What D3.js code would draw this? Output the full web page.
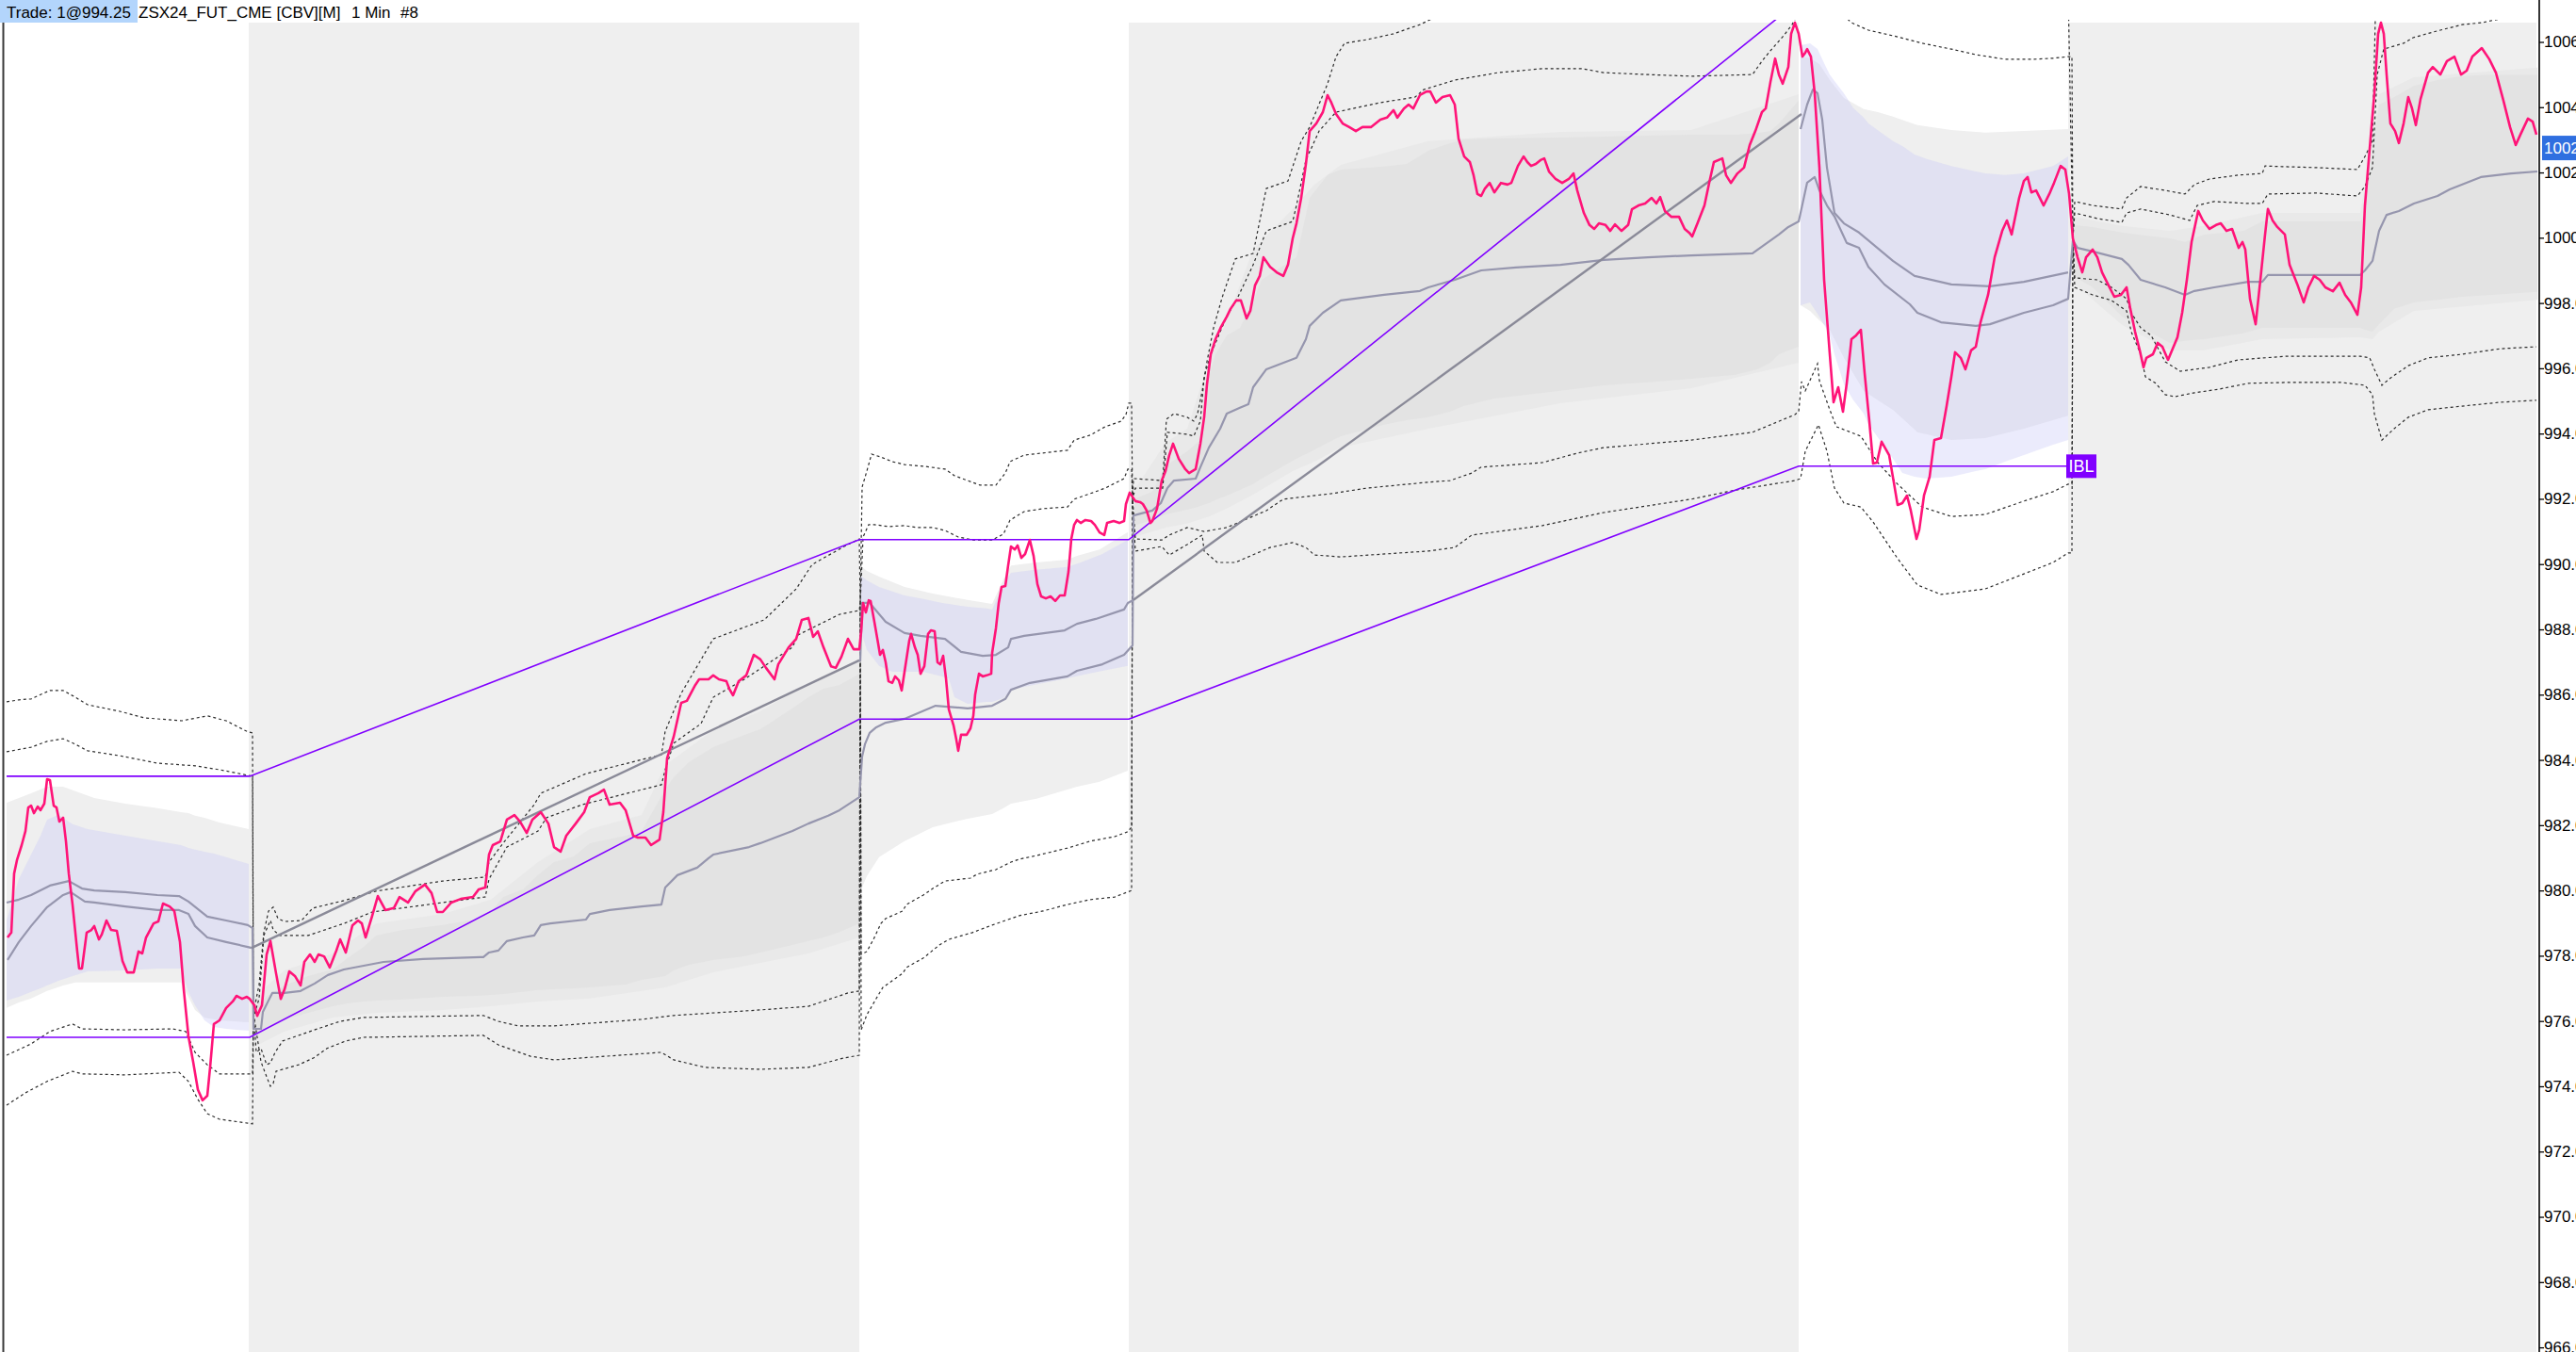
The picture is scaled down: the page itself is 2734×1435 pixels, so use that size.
<!DOCTYPE html>
<html><head><meta charset="utf-8">
<script src="https://cdn.jsdelivr.net/npm/d3@7"></script>
<style>html,body{margin:0;padding:0;background:#fff;overflow:hidden}text{font-family:"Liberation Sans",Arial,sans-serif}</style>
</head><body><svg id="c" width="2734" height="1435"></svg>
<script>
// ---------- DATA (x = 1-minute bar index, y = price) ----------
const titleHighlight = "Trade: 1@994.25";
const titleParts = ["ZSX24_FUT_CME [CBV][M]", "1 Min", "#8"];
const yTicks = [966,968,970,972,974,976,978,980,982,984,986,988,990,992,994,996,998,1000,1002,1004,1006];
const lastPrice = 1002.75;
const ibLabel = "IBL";
// overnight (shaded) sessions [startBar, endBar]
const nightSessions = [[132,456],[599,954.5],[1097.5,1346]];

const price = [[4,978.56],[6,978.71],[7.5,980.52],[9,980.93],[11.5,981.39],[13.5,981.82],[15,982.54],[16.5,982.6],[18,982.37],[20,982.57],[21.5,982.46],[23.5,982.66],[25,983.41],[26.5,983.38],[28.5,982.6],[30,982.54],[31.5,982.11],[33.5,982.23],[35,981.51],[36.5,980.52],[38.5,979.57],[41,978.13],[42,977.61],[43.5,977.61],[46,978.71],[48.5,978.79],[50,978.91],[52.5,978.5],[54,978.65],[56.5,979.08],[59,978.79],[62,978.76],[65,977.84],[67.5,977.49],[71,977.49],[73.5,978.13],[75.5,978.07],[77.5,978.56],[81.5,978.99],[84,979.05],[86.5,979.6],[90,979.51],[92.5,979.37],[95.5,978.42],[97.5,976.97],[100,975.53],[102.5,974.75],[105,973.9],[107.5,973.57],[110,973.71],[111.5,974.58],[113.5,975.91],[116.5,976.02],[120,976.4],[123.5,976.6],[125.5,976.77],[128.5,976.68],[131,976.74],[132.5,976.68],
[135,976.48],[136.5,976.16],[139,976.48],[141.5,978.04],[143.5,978.45],[146.5,977.46],[149,976.68],[151,976.97],[153.5,977.52],[156.5,977.38],[159.5,977.09],[161.5,977.81],[164.5,978.04],[167,977.81],[169,978.04],[172,977.98],[175,977.64],[178.5,978.16],[180.5,978.5],[183.5,978.1],[187,978.93],[190,979.08],[192,978.99],[194,978.56],[197.5,979.22],[200.5,979.83],[204.5,979.4],[209,979.46],[212,979.8],[216.5,979.63],[220.5,979.98],[225.5,980.18],[229,979.92],[232,979.34],[235,979.34],[239.5,979.63],[244.5,979.74],[251,979.8],[254,980.03],[257.5,980.09],[259.5,981.1],[261.5,981.39],[265.5,981.5],[269,982.17],[273,982.31],[276,982.11],[279.5,981.76],[282.5,982.17],[287,982.4],[291,982.05],[294,981.33],[297.5,981.19],[300.5,981.68],[305.5,982.05],[310,982.4],[313,982.86],[317.5,982.98],[320.5,983.09],[323.5,982.63],[329,982.69],[332,982.46],[336,981.68],[338.5,981.62],[342.5,981.62],[345.5,981.39],[350,981.56],[352,982.4],[354,984.05],[357.5,984.71],[361.5,985.75],[364.5,985.81],[369,986.3],[371,986.47],[376,986.47],[378.5,986.59],[381.5,986.47],[385.5,986.41],[387,986.18],[389,985.98],[392,986.41],[396,986.59],[400,987.22],[403.5,987.08],[406.5,986.82],[411,986.47],[413,986.93],[418.5,987.45],[422.5,987.71],[425.5,988.29],[429,988.35],[431.5,987.77],[434,987.94],[437,987.45],[441,986.87],[443.5,986.82],[446.5,987.16],[450,987.71],[453,987.39],[456,987.39],
[457,987.94],[458,988.81],[459.5,988.52],[461,988.89],[462,988.87],[464,988.23],[466,987.57],[467,987.22],[468.5,987.37],[470,986.99],[471.5,986.41],[473.5,986.36],[475,986.56],[477,986.44],[478.5,986.13],[480,986.7],[482.5,987.65],[483.5,987.86],[485.5,987.45],[487,987.22],[488.5,986.64],[490.5,986.87],[492.5,987.86],[494,987.97],[496,987.94],[497.5,986.99],[499,986.93],[500.5,987.19],[502,986.5],[503.5,985.55],[506,985.06],[507.5,984.62],[508.5,984.28],[510,984.77],[513,984.77],[515,984.97],[516.5,985.35],[517.5,986.01],[519.5,986.64],[521.5,986.56],[523.5,986.59],[526,986.64],[526.5,987.28],[528.5,988.03],[530,988.81],[531.5,989.3],[533.5,989.33],[535,989.96],[536.5,990.54],[538.5,990.45],[540,990.57],[542,990.19],[544,990.31],[546.5,990.74],[548.5,990.25],[550.5,989.39],[552.5,989.01],[555,988.95],[557.5,989.01],[560,988.87],[562.5,989.04],[565,989.04],[567,989.76],[568.5,990.77],[570,991.2],[571.5,991.35],[573.5,991.26],[576,991.35],[579,991.32],[581,991.2],[583.5,990.97],[586,990.89],[587.5,991.26],[591,991.32],[594,991.26],[596.5,991.32],[597.5,991.84],[599.5,992.19],
[602.5,991.93],[605,991.9],[606.5,991.84],[608.5,991.64],[610.5,991.26],[611.5,991.32],[614,991.7],[616.5,992.56],[618.5,992.85],[620.5,993.34],[622.5,993.69],[625.5,993.23],[629,992.91],[631,992.79],[634.5,992.91],[637,993.69],[639,994.5],[640.5,995.51],[642.5,996.43],[645,996.89],[648,997.27],[651,997.58],[653,997.82],[656,998.08],[658.5,998.08],[661.5,997.53],[663.5,997.76],[666,998.54],[668.5,998.83],[670.5,999.4],[674,999.11],[677.5,998.94],[681,998.83],[683.5,999.17],[686,999.98],[688,1000.44],[690.5,1001.22],[693,1002.26],[695,1003.27],[698.5,1003.5],[702,1003.85],[704.5,1004.37],[706.5,1004.14],[709,1003.79],[712.5,1003.5],[716,1003.39],[719.5,1003.27],[723,1003.39],[727.5,1003.39],[732.5,1003.62],[736,1003.68],[739.5,1003.91],[741.5,1003.68],[745,1003.96],[747.5,1004.08],[750,1003.96],[753.5,1004.37],[757,1004.48],[759,1004.48],[762,1004.14],[765.5,1004.31],[769.5,1004.37],[772,1004.08],[774,1003.04],[777,1002.49],[780,1002.32],[782,1001.91],[784,1001.34],[786,1001.28],[788,1001.51],[790.5,1001.68],[793,1001.39],[796.5,1001.68],[800,1001.63],[802,1001.68],[805.5,1002.2],[808.5,1002.49],[810.5,1002.32],[812.5,1002.2],[815,1002.26],[817.5,1002.38],[819.5,1002.43],[822,1002.03],[825.5,1001.8],[829,1001.68],[832.5,1001.8],[835,1001.97],[837,1001.45],[840.5,1000.76],[843.5,1000.39],[846,1000.27],[848.5,1000.44],[852,1000.39],[854.5,1000.21],[857,1000.41],[860.5,1000.21],[864,1000.39],[866,1000.87],[869.5,1000.99],[873,1001.05],[876.5,1001.22],[879,1001.05],[881,1001.25],[883.5,1000.82],[887,1000.64],[891,1000.64],[894,1000.27],[896.5,1000.15],[898,1000.04],[901,1000.47],[904.5,1000.99],[907,1001.68],[909.5,1002.32],[914,1002.43],[916,1001.91],[918.5,1001.68],[922,1001.97],[925.5,1002.15],[928.5,1002.84],[931.5,1003.27],[935,1003.85],[937,1003.96],[939.5,1004.77],[942,1005.49],[944,1005],[946,1004.72],[949,1005.23],[950.5,1006.25],[952.5,1006.59],[954.5,1006.25],
[956.5,1005.55],[958,1005.67],[959,1005.78],[961,1005.55],[963,1004.43],[965.5,1002.15],[968,998.71],[971,996.43],[973,994.96],[975.5,995.42],[978,994.67],[980,995.54],[982.5,996.89],[985,997.01],[987.5,997.18],[989.5,995.85],[992,994.38],[994,993.08],[996,993.11],[998.5,993.75],[1002.5,993.34],[1005,992.5],[1007,991.81],[1009.5,991.87],[1012,992.1],[1014,991.64],[1017,990.77],[1018.5,991.06],[1021,992.1],[1024,992.68],[1026.5,993.8],[1030,993.86],[1033,994.84],[1035.5,995.73],[1037.5,996.49],[1040.5,996.32],[1043,995.97],[1046,996.55],[1048.5,996.66],[1051,997.41],[1055,998.25],[1058.5,999.4],[1062.5,1000.21],[1065,1000.53],[1067.5,1000.1],[1071.5,1001.22],[1074,1001.74],[1076,1001.86],[1078,1001.39],[1080.5,1001.45],[1084.5,1000.99],[1087.5,1001.34],[1090,1001.68],[1093.5,1002.2],[1096,1002.09],[1098,1001.34],
[1100,999.98],[1102.5,999.4],[1105,998.94],[1107,999.4],[1110.5,999.64],[1113,999.4],[1115.5,998.94],[1118.5,998.59],[1122,998.19],[1125.5,998.25],[1128.5,998.48],[1130.5,997.82],[1133,997.12],[1135.5,996.55],[1137.5,996.03],[1139,996.32],[1142.5,996.43],[1145,996.78],[1147.5,996.66],[1150.5,996.26],[1153,996.6],[1155.5,996.95],[1158,997.7],[1160.5,998.71],[1163,999.87],[1166.5,1000.82],[1169,1000.53],[1172.5,1000.27],[1176,1000.39],[1178.5,1000.44],[1181.5,1000.21],[1184.5,1000.27],[1188,999.69],[1190,999.87],[1191.5,999.64],[1194,998.13],[1197,997.35],[1199.5,998.71],[1202,1000.1],[1203.5,1000.88],[1206,1000.53],[1208.5,1000.33],[1212.5,1000.1],[1215,999.17],[1219,998.59],[1222.5,998.02],[1225,998.48],[1228,998.83],[1231,998.71],[1234,998.48],[1238,998.36],[1241.5,998.62],[1244.5,998.25],[1247.5,998.02],[1251,997.64],[1253,998.48],[1255,1000.99],[1257.5,1002.72],[1260,1004.43],[1262,1006.25],[1263.5,1006.59],[1265,1006.25],[1266.5,1005],[1268.5,1003.5],[1271,1003.27],[1273,1002.9],[1275.5,1003.5],[1278,1004.31],[1280,1003.96],[1282,1003.45],[1284.5,1004.25],[1288.5,1005.06],[1291,1005.23],[1295,1005],[1298.5,1005.41],[1302.5,1005.55],[1306,1005],[1309,1005.12],[1312,1005.55],[1317,1005.81],[1321,1005.47],[1324.5,1005.06],[1328.5,1004.2],[1332,1003.39],[1335,1002.84],[1337.5,1003.16],[1341.5,1003.65],[1344,1003.56],[1346,1003.16]];

// deviation bands (dotted), outer/inner upper and lower
const devU2 = [[3.5,985.78],[10,985.84],[16.5,985.87],[26.5,986.13],[33.5,986.13],[40,985.92],[46.5,985.69],[63.5,985.49],[76.5,985.29],[96.5,985.2],[110,985.35],[120,985.2],[131.5,984.86],[134,984.83],[134.5,976.25],[137.5,977.12],[140,978.71],[142.5,979.37],[145,979.49],[147.5,979.14],[151,979.05],[160,979.08],[166,979.46],[182.5,979.69],[199.5,979.98],[235,980.29],[257.5,980.41],[259.5,980.87],[267,981.45],[283.5,982.63],[287,982.98],[311,983.58],[351,984.16],[353,984.88],[361.5,986.04],[378.5,987.71],[405.5,988.29],[422.5,989.24],[431,989.99],[448,990.54],[456,990.77],[456.5,988.81],[457.5,992.36],[460,992.85],[462.5,993.37],[467.5,993.28],[473.5,993.14],[480,993.05],[490,993],[501.5,992.91],[506.5,992.71],[520,992.42],[528.5,992.42],[533.5,992.79],[536,993.14],[543.5,993.34],[566.5,993.49],[570,993.8],[578.5,993.95],[586.5,994.21],[595,994.38],[597.5,994.58],[599,994.93],[600.5,994.93],[601,991.84],[601.5,992.62],[617,992.56],[619,994.44],[623,994.61],[630,994.5],[633.5,994.38],[635.5,994.61],[638,995.31],[640.5,996.2],[644,997.24],[648.5,998.16],[655.5,999.35],[665,999.52],[672,1001.51],[683.5,1001.74],[690.5,1002.96],[695,1003.39],[704.5,1004.72],[709,1005.55],[713.5,1005.96],[725.5,1006.07],[739.5,1006.25],[753.5,1006.53],[765,1006.85],[780,1007.29],[955.5,1007.57],[1097.5,1007.57],[1100,999.98],[1101,1001.11],[1110.5,1000.99],[1126,1000.88],[1128.5,1001.22],[1136,1001.57],[1149,1001.45],[1159.5,1001.34],[1164.5,1001.63],[1172.5,1001.8],[1188,1001.92],[1200.5,1001.97],[1202,1002.2],[1211,1002.18],[1229,1002.15],[1251,1002.09],[1255,1002.49],[1259,1002.96],[1260.5,1006.71],[1261.5,1007.29],[1346.5,1007.57]];
const devU1 = [[3.5,984.25],[16.5,984.39],[25,984.57],[33.5,984.65],[40,984.48],[46.5,984.28],[63.5,984.13],[83.5,983.9],[103.5,983.82],[116.5,983.7],[131.5,983.53],[134,983.5],[134.5,976.11],[137.5,976.69],[140,978.62],[143.5,979.08],[145,978.79],[148.5,978.62],[163.5,978.62],[182.5,978.99],[197.5,979.34],[235,979.63],[257.5,979.8],[259.5,980.35],[269,981.33],[285.5,981.82],[290,982.23],[309,982.63],[351,983.24],[353,983.7],[357.5,984.51],[372,985.11],[378.5,985.92],[395,986.47],[420.5,987.45],[423.5,987.83],[445.5,988.46],[456,988.58],[456.5,988.81],[458,990.83],[461,991.21],[464,991.21],[471.5,991.15],[480,991.18],[486.5,991.12],[495,991.12],[501.5,991.03],[508.5,990.83],[516.5,990.74],[526.5,990.74],[532.5,990.92],[536,991.35],[543.5,991.61],[553.5,991.7],[566.5,991.75],[570,991.99],[580,992.19],[586.5,992.33],[596.5,992.62],[598.5,992.91],[600.5,992.91],[601,991.99],[602.5,992.33],[617,992.33],[619.5,994.04],[630,993.98],[633.5,993.92],[637,994.38],[639,995.74],[642.5,996.43],[651,997.59],[656.5,998.13],[665,999.17],[672,1000.21],[686,1000.5],[688,1000.99],[693,1002.38],[700,1003.27],[709,1003.85],[732.5,1004.14],[751,1004.31],[755.5,1004.54],[772,1004.83],[795,1005.06],[818.5,1005.18],[839.5,1005.18],[851,1005.06],[874.5,1005],[897.5,1004.95],[930,1005],[935,1005.41],[939.5,1005.73],[946.5,1006.19],[951,1006.53],[954,1006.85],[955.5,1007.29],[975,1007],[982.5,1006.59],[991.5,1006.36],[1004.5,1006.19],[1020,1005.96],[1035.5,1005.78],[1048.5,1005.61],[1064,1005.47],[1079.5,1005.47],[1089.5,1005.5],[1097.5,1005.55],[1099.5,1005.55],[1100,999.98],[1101,1000.76],[1113,1000.59],[1126,1000.47],[1128.5,1000.76],[1136,1000.88],[1151.5,1000.7],[1162,1000.53],[1166,1000.99],[1175,1001.11],[1193,1001.05],[1200.5,1001.05],[1203.5,1001.34],[1229,1001.37],[1251,1001.28],[1255,1001.57],[1259,1002.15],[1261.5,1005],[1265,1005.78],[1275.5,1005.96],[1280.5,1006.13],[1291,1006.3],[1306.5,1006.53],[1317,1006.59],[1327,1006.71],[1346.5,1006.94]];
const devL1 = [[3.5,974.95],[16.5,975.3],[26.5,975.68],[38.5,975.91],[43.5,975.76],[66.5,975.73],[91.5,975.76],[98.5,975.68],[103.5,975.04],[110,974.66],[116.5,974.38],[131.5,974.38],[134,974.38],[134.5,976.25],[136,975.04],[138.5,975.16],[141.5,974.66],[143.5,974.72],[146,975.04],[150,975.39],[170,975.79],[180.5,975.99],[193,976.11],[256.5,976.17],[264.5,975.99],[275,975.85],[294,975.85],[340.5,976.05],[357.5,976.17],[403.5,976.34],[429,976.45],[450,976.86],[456,976.92],[456.5,988.81],[457,978.04],[460,978.13],[463.5,978.5],[467.5,978.99],[470,979.14],[479,979.37],[481,979.57],[490,979.86],[495,980.06],[501.5,980.29],[515,980.38],[518.5,980.5],[528.5,980.64],[536.5,980.87],[541,980.96],[550,981.07],[566.5,981.3],[578.5,981.51],[591.5,981.65],[598.5,981.8],[600.5,981.94],[601,991.99],[602.5,990.77],[616.5,990.74],[620.5,990.89],[630,991.12],[639,991],[651,991.12],[672,991.64],[681,991.99],[706.5,992.16],[725.5,992.33],[758,992.51],[769.5,992.56],[781,992.79],[786,992.97],[818.5,993.11],[837,993.4],[851,993.57],[897.5,993.8],[930,994.04],[952.5,994.58],[954.5,994.67],[956,995.59],[958,995.31],[964.5,996.14],[965.5,995.62],[971,994.73],[974.5,994.21],[987.5,993.92],[996.5,993.11],[1007,992.45],[1020,991.75],[1035.5,991.46],[1053.5,991.52],[1074,991.93],[1089.5,992.22],[1097.5,992.45],[1099.5,992.45],[1100,999.98],[1101,998.77],[1113,998.71],[1120.5,998.48],[1128.5,998.13],[1131,997.7],[1136,997.24],[1141.5,997.01],[1149,996.2],[1157,995.91],[1172.5,996.03],[1188,996.26],[1213.5,996.37],[1252.5,996.37],[1257.5,996.32],[1260,995.97],[1264,995.48],[1268,995.68],[1278,996.08],[1288.5,996.32],[1306.5,996.43],[1327,996.6],[1346,996.66]];
const devL2 = [[3.5,973.42],[13.5,973.8],[25,974.15],[38.5,974.46],[43.5,974.38],[66.5,974.35],[95,974.43],[100,974.15],[105,973.6],[110,973.16],[116.5,972.99],[131.5,972.87],[134,972.85],[134.5,976.25],[138.5,974.75],[141.5,974.29],[143.5,974],[145,974.09],[146.5,974.46],[158.5,974.66],[166.5,974.87],[173.5,975.16],[183.5,975.39],[193,975.5],[256.5,975.56],[264.5,975.27],[281.5,974.92],[294,974.81],[351,975.04],[357.5,974.81],[374,974.58],[403.5,974.52],[429,974.58],[448,974.87],[456,974.95],[456.5,988.81],[457,975.73],[460,976.19],[465,976.69],[468.5,977.03],[479,977.46],[481,977.64],[490,977.93],[498.5,978.33],[503.5,978.5],[516,978.71],[526.5,978.94],[541,979.23],[553.5,979.37],[566.5,979.57],[578.5,979.72],[591.5,979.8],[600.5,980],[601,991.99],[602.5,990.4],[616.5,990.54],[620.5,990.28],[630,990.6],[638,990.89],[639,990.4],[646,990.05],[655.5,990.05],[674,990.51],[686,990.66],[693,990.51],[697.5,990.28],[711.5,990.22],[758,990.4],[772,990.51],[781,990.89],[818.5,991.18],[851,991.58],[897.5,991.99],[921,992.27],[952.5,992.56],[955.5,992.62],[958,993.46],[965,994.27],[969.5,993.46],[973.5,992.33],[978.5,991.87],[987.5,991.75],[994,991.29],[1007,990.17],[1017.5,989.36],[1030,989.07],[1053.5,989.24],[1074,989.7],[1089.5,990.05],[1097.5,990.34],[1099.5,990.34],[1100,999.98],[1101,998.48],[1110.5,998.25],[1120.5,998.08],[1128.5,997.76],[1131,997.12],[1136,996.43],[1138.5,995.74],[1144,995.54],[1149,995.19],[1154,995.13],[1164.5,995.25],[1177.5,995.36],[1193,995.54],[1216,995.57],[1242,995.57],[1255,995.48],[1259,995.19],[1260,994.61],[1264,993.8],[1270.5,994.15],[1278,994.5],[1288.5,994.73],[1306.5,994.84],[1327,994.96],[1346,995.02]];

// shaded value bands [bar, upper, lower]
const dayBand0Outer = [[3.5,982.69,976.4],[10,982.83,976.57],[16.5,982.98,976.69],[25,983.18,976.92],[33.5,983.18,977.09],[40,983.04,977.18],[50,982.83,977.18],[66.5,982.66,977.18],[83.5,982.52,977.18],[96,982.4,977.18],[100,982.37,976.74],[103.5,982.29,976.34],[108.5,982.23,976.11],[116.5,982.08,976.02],[132,981.88,975.96]];
const dayBand0Inner = [[3.5,979.08,976.63],[10,980.35,976.74],[16.5,981.1,976.89],[21.5,981.68,977],[25,982.17,977.09],[31,982.31,977.23],[38.5,982.03,977.38],[46.5,981.88,977.52],[66.5,981.68,977.55],[83.5,981.51,977.61],[96,981.39,977.61],[100,981.3,976.89],[103.5,981.25,976.48],[108.5,981.19,976.02],[113.5,981.13,975.82],[120,981.02,975.76],[132,980.81,975.7]];
const nightBand1Outer = [[134,976.69,975.18],[151,977.55,975.68],[176.5,978.07,976.11],[199.5,978.99,976.25],[235,979.28,976.34],[260.5,979.72,976.45],[285.5,980.87,976.6],[313,981.88,976.69],[340.5,982.31,976.92],[353,983.84,977.03],[378.5,984.91,977.49],[403.5,985.49,977.78],[429,986.36,978.07],[456,987.08,978.56]];
const nightBand1Inner = [[134,976.4,975.44],[142.5,976.8,975.79],[151,977.09,976.05],[163.5,977.38,976.25],[176.5,977.58,976.45],[184.5,977.93,976.54],[193,978.27,976.6],[199.5,978.62,976.63],[214,978.79,976.66],[235,978.94,976.74],[252,979.11,976.77],[260.5,979.34,976.8],[267,979.8,976.83],[277.5,980.03,976.89],[285.5,980.47,976.95],[294,980.87,976.97],[304.5,981.04,977],[313,981.45,977.03],[332,981.68,977.12],[340.5,981.82,977.26],[353,983.09,977.38],[357.5,983.47,977.55],[365.5,983.93,977.72],[378.5,984.39,977.87],[395,984.77,977.98],[403.5,984.94,978.1],[420.5,985.58,978.33],[429,985.92,978.45],[437,986.18,978.56],[445.5,986.3,978.73],[456,986.64,978.99]];
const dayBand2Outer = [[456.5,989.96,979.95],[460,989.79,980.44],[466.5,989.62,981.02],[480,989.3,981.51],[495,989.1,981.94],[513.5,988.9,982.2],[526.5,988.78,982.34],[532.5,989.53,982.52],[536.5,989.96,982.66],[550,990.05,982.81],[566.5,990.14,983.09],[571.5,990.25,983.18],[583.5,990.45,983.33],[598.5,990.98,983.67]];
const dayBand2Inner = [[456.5,989.65,988.03],[460,989.5,987.37],[466.5,989.3,986.88],[473.5,989.16,986.7],[480,989.04,986.7],[490,988.93,986.7],[500,988.81,986.56],[503.5,988.78,986.5],[506.5,988.75,985.92],[513.5,988.69,985.72],[523.5,988.64,985.78],[526.5,988.61,985.78],[532.5,989.39,985.89],[536.5,989.73,986.15],[548.5,989.82,986.3],[566.5,989.91,986.5],[573.5,990.05,986.59],[585,990.31,986.73],[598.5,990.74,986.88]];
const nightBand3Outer = [[602,992.27,990.83],[618.5,993.72,991.12],[630,994.15,991.24],[641.5,996.2,991.46],[651,997.47,991.7],[665,999.64,992.13],[686,1000.88,992.85],[697.5,1001.63,993.14],[711.5,1002.23,993.57],[758,1002.96,994.15],[828,1003.24,994.93],[897.5,1003.3,995.39],[954.5,1004.4,996.17]];
const nightBand3Inner = [[602,991.99,991.18],[611.5,992.22,991.35],[618.5,993,991.52],[630,993.46,991.67],[637,993.8,991.78],[641.5,995.74,991.87],[645,996.43,991.96],[651,997.01,992.1],[658,997.24,992.27],[665,998.05,992.45],[669.5,998.71,992.62],[688,999.4,993.23],[695,1001.22,993.43],[704.5,1001.92,993.72],[711.5,1002.09,993.92],[734.5,1002.18,994.27],[746.5,1002.26,994.41],[758,1002.67,994.5],[769.5,1002.9,994.67],[776.5,1003.01,994.84],[793,1003.04,995.07],[828,1003.07,995.31],[851,1003.1,995.48],[874.5,1003.13,995.57],[897.5,1003.16,995.68],[921,1003.16,995.8],[932.5,1003.21,995.97],[939.5,1003.27,996.17],[944,1003.5,996.43],[954.5,1004.2,996.66]];
const dayBand4Outer = [[955.5,1005.55,997.93],[960.5,1005.5,997.76],[965.5,1005.32,997.47],[971,1004.83,997.18],[978.5,1004.28,996.32],[989,1003.94,995.31],[996.5,1003.85,995.02],[1004.5,1003.71,994.73],[1017.5,1003.45,994.04],[1035.5,1003.3,993.8],[1053.5,1003.22,993.86],[1074,1003.27,994.15],[1097.5,1003.33,994.55]];
const dayBand4Inner = [[955.5,1005.9,997.93],[960.5,1005.96,998.02],[964.5,1005.78,997.67],[968,1005.35,997.33],[971,1005,997.01],[973.5,1004.8,996.43],[978.5,1004.43,995.51],[983.5,1003.97,995.02],[989,1003.68,994.61],[991.5,1003.5,994.29],[1004.5,1002.96,993.23],[1009.5,1002.81,992.79],[1016,1002.55,992.68],[1022.5,1002.41,992.62],[1035.5,1002.2,992.68],[1048.5,1002.03,992.85],[1053.5,1001.97,992.91],[1064,1001.92,993.14],[1074,1001.97,993.34],[1089.5,1002.2,993.66],[1097.5,1002.49,993.8]];
const nightBand5Outer = [[1100,1000.65,998.63],[1126,1000.36,997.33],[1151.5,1000.21,996.55],[1169.5,1000.36,996.55],[1200.5,1000.76,996.89],[1252.5,1000.76,996.95],[1259,1002.96,996.89],[1262.5,1004.4,997.12],[1281,1004.92,997.76],[1346.5,1005.21,998.1]];
const nightBand5Inner = [[1100,1000.39,998.83],[1110.5,1000.33,998.48],[1126,1000.16,997.59],[1138.5,1000.07,997.18],[1151.5,999.98,996.78],[1159.5,999.87,996.84],[1169.5,1000.1,996.89],[1190.5,1000.21,997.07],[1200.5,1000.5,997.24],[1252.5,1000.5,997.24],[1255,1000.76,997.18],[1259,1002.72,997.12],[1262.5,1004.08,997.35],[1270.5,1004.31,997.82],[1281,1004.66,998.02],[1293.5,1004.83,998.1],[1306.5,1004.95,998.19],[1322,1005,998.25],[1346.5,1005,998.34]];

// VWAP-style gray lines
const vwapCarry = [[3.5,979.63],[10,979.72],[16.5,979.86],[26.5,980.15],[36.5,980.29],[43.5,980.06],[50,980],[66.5,979.95],[83.5,979.86],[95,979.83],[100,979.66],[110,979.2],[120,979.08],[131.5,978.94],[134,978.85],[134.5,975.76],[138.5,975.76],[139.5,976.28],[142.5,976.63],[144.5,976.86],[151,976.86],[159.5,976.92],[167,977.15],[174,977.41],[182.5,977.58],[203.5,977.81],[224.5,977.9],[256.5,977.96],[259.5,978.1],[264.5,978.16],[269,978.45],[277.5,978.56],[283.5,978.62],[287,978.94],[292,978.99],[311,979.11],[313,979.28],[323.5,979.4],[340.5,979.51],[351,979.57],[353,980.09],[359.5,980.47],[370,980.7],[376,980.99],[378.5,981.1],[397.5,981.33],[403.5,981.45],[420.5,981.82],[429,982.05],[439.5,982.29],[445.5,982.46],[456,982.86],[457.5,984.1],[459,984.48],[461.5,984.83],[465,985],[470,985.14],[480,985.26],[496.5,985.66],[513.5,985.58],[526.5,985.66],[533.5,985.87],[536.5,986.15],[546.5,986.36],[566.5,986.56],[571.5,986.73],[585,986.93],[596.5,987.22],[601,987.51],[601.5,991.49],[611.5,991.64],[616,991.87],[619.5,992.33],[623,992.56],[634.5,992.62],[637,992.97],[641.5,993.57],[647.5,994.15],[651,994.61],[658,994.79],[662.5,994.9],[665,995.42],[672,995.97],[688,996.32],[693,996.89],[695,997.3],[702,997.7],[711.5,998.08],[734.5,998.25],[753.5,998.37],[758,998.48],[772,998.71],[786,999],[804.5,999.09],[828,999.17],[851,999.32],[874.5,999.4],[897.5,999.46],[930,999.52],[937,999.81],[944,1000.1],[949,1000.33],[954.5,1000.5],[955.5,1000.76],[959,1001.69],[963,1001.86],[965.5,1001.45],[969.5,1000.99],[973.5,1000.65],[980,999.84],[986.5,999.69],[991.5,999.11],[1000,998.57],[1013.5,997.96],[1017.5,997.7],[1030,997.41],[1048.5,997.3],[1056,997.35],[1074,997.7],[1089.5,997.93],[1097.5,998.13],[1100,999.92],[1102.5,999.69],[1110.5,999.58],[1126,999.35],[1129.5,999.17],[1136,998.71],[1149,998.48],[1159.5,998.25],[1164.5,998.37],[1175,998.48],[1193,998.65],[1200.5,998.65],[1203.5,998.86],[1252.5,998.86],[1255,999],[1259,999.29],[1262.5,1000.21],[1266.5,1000.7],[1273,1000.82],[1281,1001.05],[1293.5,1001.28],[1300,1001.48],[1316.5,1001.86],[1332.5,1001.97],[1346.5,1002.03]];
const vwapSession = [
  [[4,977.87],[10,978.42],[16.5,978.91],[25,979.49],[33.5,979.86],[37.5,979.95],[45,979.66],[50,979.63],[66.5,979.51],[83.5,979.4],[95,979.4],[100,979.28],[103.5,978.91],[110,978.56],[120,978.42],[131.5,978.27],[133.5,978.24]],
  [[456.5,987.02],[457.5,988.81],[461.5,988.81],[470,988.23],[480,987.89],[488.5,987.8],[501.5,987.71],[510,987.31],[521.5,987.19],[528.5,987.22],[535,987.45],[536.5,987.71],[543.5,987.8],[565,987.97],[571.5,988.17],[581.5,988.32],[596.5,988.61],[598.5,988.81],[601.5,988.9]],
  [[955.5,1003.33],[959,1004.08],[962,1004.54],[964.5,1004.43],[967,1003.62],[969.5,1002.15],[973.5,1000.76],[978.5,1000.44],[986.5,1000.16],[1004.5,999.29],[1016,998.83],[1035.5,998.57],[1056,998.51],[1074,998.65],[1097.5,998.94]]
];
// session open-to-open reference lines
const openLines = [
  [[133.5,978.24],[456,987.05]],
  [[601.5,988.9],[956,1003.79]]
];
// initial balance high / low
const ibHigh = [[3.5,983.5],[132.5,983.5],[456,990.75],[599,990.75],[954.5,1007.25]];
const ibLow = [[3.5,975.5],[132.5,975.5],[456,985.25],[599,985.25],[954.5,993],[1096.5,993]];

// ---------- DRAWING ----------
const W = 2734, H = 1435;
const svg = d3.select('#c');
const x = d3.scaleLinear().domain([0, 1347.5]).range([0, 2695]);
const y = d3.scaleLinear().domain([966, 1006]).range([1430.1, 44.5]);
const plotTop = 24, axisX = x(1347.5);

svg.append('rect').attr('width', W).attr('height', H).attr('fill', '#fff');
svg.append('defs').append('clipPath').attr('id', 'plot')
  .append('rect').attr('x', 5).attr('y', 21).attr('width', axisX - 5).attr('height', H - 21);

const g = svg.append('g').attr('clip-path', 'url(#plot)');

// night session shading
g.selectAll('rect.night').data(nightSessions).join('rect')
  .attr('class', 'night')
  .attr('x', d => x(d[0])).attr('y', plotTop)
  .attr('width', d => x(d[1]) - x(d[0])).attr('height', H - plotTop)
  .attr('fill', '#efefef').attr('shape-rendering', 'crispEdges');

const area = d3.area().x(d => x(d[0])).y0(d => y(d[2])).y1(d => y(d[1]));
const line = d3.line().x(d => x(d[0])).y(d => y(d[1]));

[dayBand0Outer, dayBand2Outer, dayBand4Outer].forEach(b =>
  g.append('path').attr('d', area(b)).attr('fill', '#efefef'));
[dayBand0Inner, dayBand2Inner, dayBand4Inner].forEach(b =>
  g.append('path').attr('d', area(b)).attr('fill', 'rgb(202,202,247)').attr('fill-opacity', 0.375));
[nightBand1Outer, nightBand3Outer, nightBand5Outer].forEach(b =>
  g.append('path').attr('d', area(b)).attr('fill', '#e9e9e9'));
[nightBand1Inner, nightBand3Inner, nightBand5Inner].forEach(b =>
  g.append('path').attr('d', area(b)).attr('fill', '#e3e3e3'));

// dotted deviation lines
[devU2, devU1, devL1, devL2].forEach(s =>
  g.append('path').attr('d', line(s)).attr('fill', 'none')
    .attr('stroke', '#2c2c2c').attr('stroke-width', 1.2).attr('stroke-dasharray', '3,3'));

// gray lines
g.append('path').attr('d', line(vwapCarry)).attr('fill', 'none')
  .attr('stroke', '#9696ae').attr('stroke-width', 2.2).attr('stroke-linejoin', 'round');
vwapSession.forEach(s => g.append('path').attr('d', line(s)).attr('fill', 'none')
  .attr('stroke', '#9696ae').attr('stroke-width', 2.2).attr('stroke-linejoin', 'round'));
openLines.forEach(s => g.append('path').attr('d', line(s)).attr('fill', 'none')
  .attr('stroke', '#8a8a98').attr('stroke-width', 2.4));

// IB lines
[ibHigh, ibLow].forEach(s => g.append('path').attr('d', line(s)).attr('fill', 'none')
  .attr('stroke', '#8000ff').attr('stroke-width', 1.6));

// price
g.append('path').attr('d', line(price)).attr('fill', 'none')
  .attr('stroke', '#ff1478').attr('stroke-width', 2.6).attr('stroke-linejoin', 'round');

// IBL label
const ibEnd = ibLow[ibLow.length - 1];
const lb = svg.append('g').attr('transform', `translate(${x(ibEnd[0])},${y(ibEnd[1])})`);
lb.append('rect').attr('x', 0).attr('y', -12.5).attr('width', 32).attr('height', 25).attr('fill', '#8000ff');
lb.append('text').attr('x', 16).attr('y', 6.5).attr('text-anchor', 'middle')
  .attr('fill', '#fff').attr('font-size', 18).text(ibLabel);

// left frame line
svg.append('line').attr('x1', 3.5).attr('x2', 3.5).attr('y1', 0).attr('y2', H)
  .attr('stroke', '#3a3a3a').attr('stroke-width', 2);

// right price axis
svg.append('line').attr('x1', axisX).attr('x2', axisX).attr('y1', 0).attr('y2', H)
  .attr('stroke', '#000').attr('stroke-width', 1.6);
const ax = svg.append('g').attr('transform', `translate(${axisX},0)`)
  .call(d3.axisRight(y).tickValues(yTicks).tickSize(5).tickSizeOuter(0).tickPadding(0)
    .tickFormat(d3.format('.2f')));
ax.select('.domain').remove();
ax.selectAll('line').attr('stroke', '#000').attr('stroke-width', 1.3);
ax.selectAll('text').attr('font-size', 17).attr('fill', '#000')
  .attr('font-family', '"Liberation Sans", Arial, sans-serif');

// last price marker
const lp = svg.append('g').attr('transform', `translate(${axisX + 3},${y(lastPrice)})`);
lp.append('rect').attr('x', 0).attr('y', -13).attr('width', 40).attr('height', 26).attr('fill', '#2f6fe0');
lp.append('text').attr('x', 2).attr('y', 6).attr('fill', '#fff').attr('font-size', 17)
  .text(d3.format('.2f')(lastPrice));

// title
svg.append('rect').attr('x', 0).attr('y', 0).attr('width', 146).attr('height', plotTop).attr('fill', '#b3d5fc');
svg.append('text').attr('x', 7).attr('y', 19).attr('font-size', 17).attr('fill', '#000').text(titleHighlight);
const tx = [147, 373, 425];
titleParts.forEach((t, i) => svg.append('text').attr('x', tx[i]).attr('y', 19)
  .attr('font-size', 17).attr('fill', '#000').text(t));
</script></body></html>
